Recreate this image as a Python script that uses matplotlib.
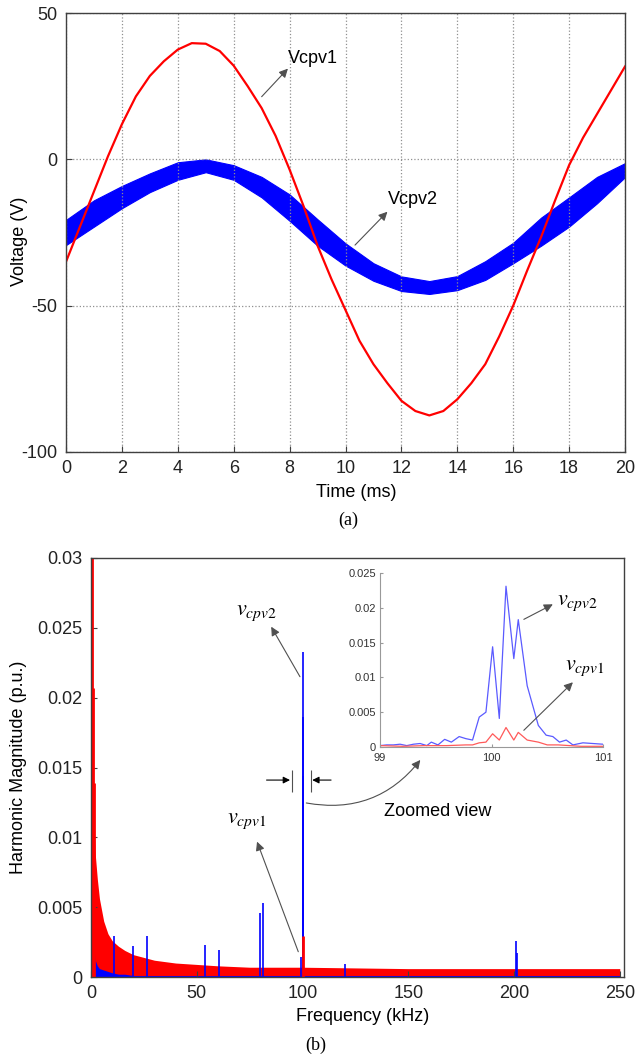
import matplotlib
matplotlib.use("Agg")
import matplotlib.pyplot as plt

plt.rcParams['font.family'] = ['Liberation Sans', 'DejaVu Sans']
plt.rcParams['mathtext.fontset'] = 'stix'
plt.rcParams['axes.unicode_minus'] = False

# ---- (a) capacitor voltages ----
t_red = [0, 0.5, 1, 1.5, 2, 2.5, 3, 3.5, 4, 4.5, 5, 5.5, 6, 6.5, 7, 7.5, 8, 8.5,
         9, 9.5, 10, 10.5, 11, 11.5, 12, 12.5, 13, 13.5, 14, 14.5, 15, 15.5,
         16, 16.5, 17, 17.5, 18, 18.5, 19, 19.5, 20]
v_cpv1 = [-35, -23, -11, 1, 12, 21.5, 28.5, 33.5, 37.5, 39.7, 39.5, 37, 32, 25,
          17.5, 8, -3.5, -16, -29.5, -41, -51.5, -62, -70, -76.5, -82.5, -86,
          -87.5, -86, -82, -76.5, -70, -60.5, -50, -38, -26.5, -14, -2, 7.4,
          15.5, 23.6, 31.7]

t_blue = [0, 1, 2, 3, 4, 5, 6, 7, 8, 9, 10, 11, 12, 13, 14, 15, 16, 17, 18, 19, 20]
v_cpv2_hi = [-20.7, -14, -9.1, -4.8, -1, 0, -2, -6, -12, -20.5, -28.7, -35.5, -40,
             -41.6, -39.9, -34.8, -28.5, -19.9, -13, -6, -1.3]
v_cpv2_lo = [-29.3, -23, -16.7, -11.2, -7, -4.4, -7, -13, -21, -29.5, -36.3, -41.5,
             -45, -46, -44.7, -41.2, -35.5, -29.5, -23, -15, -6.1]

# ---- (b) harmonic spectrum ----
spec_f = [1, 2, 3, 4, 6, 8, 10, 13, 16, 20, 25, 30, 40, 50, 60, 75, 100, 150, 200, 250]
red_noise_top = [0.0125, 0.0088, 0.0070, 0.0056, 0.0040, 0.0031, 0.0026, 0.0022,
                 0.0019, 0.0016, 0.0014, 0.0012, 0.0010, 0.0009, 0.0008, 0.0007,
                 0.0007, 0.0006, 0.0006, 0.0006]
red_noise_bot = [0.0025, 0.0012, 0.0008, 0.0006, 0.0005, 0.0004, 0.0003, 0.0002,
                 0.0002, 0.0001, 0.0001, 0.0001, 0.0001, 0.0001, 0.0001, 0.0001,
                 0.0001, 0.0001, 0.0001, 0.0001]
blue_noise_top = [0.0040, 0.0025, 0.0018, 0.0014, 0.0010, 0.0008, 0.0007, 0.0006,
                  0.0006, 0.0005, 0.0005, 0.0005, 0.0005, 0.0004, 0.0004, 0.0004,
                  0.0004, 0.0004, 0.0004, 0.0004]

blue_spike_f = [0.3, 11, 20, 26.7, 54, 60.4, 80, 81.3, 99.4, 100.01, 100.13, 100.24,
                120, 201, 201.3]
blue_spike_v = [0.0116, 0.0029, 0.0022, 0.0029, 0.0023, 0.0019, 0.0046, 0.0053,
                0.0014, 0.0144, 0.0233, 0.0186, 0.0009, 0.0026, 0.0017]
red_spike_f = [0.5, 0.9, 1.2, 100.13]
red_spike_v = [0.030, 0.0207, 0.0139, 0.0029]

# zoomed view around 100 kHz
zoom_f_blue = [99.0, 99.06, 99.12, 99.18, 99.24, 99.3, 99.36, 99.42, 99.46, 99.52,
               99.58, 99.64, 99.71, 99.77, 99.83, 99.89, 99.95, 100.01, 100.07,
               100.13, 100.2, 100.24, 100.32, 100.42, 100.49, 100.55, 100.61,
               100.67, 100.73, 100.82, 100.91, 101.0]
zoom_v_blue = [0.0002, 0.0003, 0.0003, 0.0004, 0.0002, 0.0004, 0.0005, 0.0002,
               0.0007, 0.0003, 0.0011, 0.0007, 0.0015, 0.0012, 0.0010, 0.0043,
               0.0050, 0.0144, 0.0041, 0.0231, 0.0127, 0.0183, 0.0088, 0.0031,
               0.0017, 0.0015, 0.0007, 0.0010, 0.0003, 0.0006, 0.0005, 0.0004]
zoom_f_red = [99.0, 99.2, 99.4, 99.6, 99.77, 99.83, 99.89, 99.95, 100.01, 100.07,
              100.13, 100.2, 100.24, 100.32, 100.42, 100.5, 100.6, 100.8, 101.0]
zoom_v_red = [0.0002, 0.0001, 0.0002, 0.0002, 0.0003, 0.0003, 0.0006, 0.0007,
              0.0019, 0.0010, 0.0028, 0.0010, 0.0021, 0.0010, 0.0007, 0.0003,
              0.0003, 0.0001, 0.0001]

W, H = 635, 1062
fig = plt.figure(figsize=(W / 100, H / 100), dpi=100)


def px_axes(left, top, right, bottom):
    # axes box given in picture pixels
    return fig.add_axes([left / W, 1 - bottom / H, (right - left) / W, (bottom - top) / H])


spine_col = '#404040'
arrow = dict(arrowstyle='-|>', color='#505050', lw=0.8, mutation_scale=13,
             shrinkA=0, shrinkB=0)

# ---------------- (a) ----------------
ax1 = px_axes(66, 13, 625, 452)
ax1.fill_between(t_blue, v_cpv2_lo, v_cpv2_hi, color='blue', lw=0.8)
ax1.plot(t_red, v_cpv1, color='red', lw=1.6)
ax1.set_xlim(0, 20)
ax1.set_ylim(-100, 50)
ax1.set_xticks(range(0, 21, 2))
ax1.set_yticks([-100, -50, 0, 50])
ax1.grid(True, linestyle=':', color='#909090', lw=0.9)
ax1.set_xlabel('Time (ms)', fontsize=13)
ax1.set_ylabel('Voltage (V)', fontsize=13)
ax1.xaxis.set_label_coords(0.52, -0.073)
ax1.yaxis.set_label_coords(-0.068, 0.48)
ax1.annotate('', xy=(7.94, 31), xytext=(7.0, 21.4), arrowprops=arrow)
ax1.text(7.95, 34.6, 'Vcpv1', fontsize=13, va='center', ha='left')
ax1.annotate('', xy=(11.5, -17.9), xytext=(10.34, -29.3), arrowprops=arrow)
ax1.text(11.5, -13.6, 'Vcpv2', fontsize=13, va='center', ha='left')

# ---------------- (b) ----------------
ax2 = px_axes(91, 558, 624, 977)
ax2.fill_between(spec_f, 0, blue_noise_top, color='blue', lw=0)
ax2.vlines(blue_spike_f, 0, blue_spike_v, color='blue', lw=1.2)
ax2.fill_between(spec_f, red_noise_bot, red_noise_top, color='red', lw=0)
ax2.vlines(red_spike_f, 0, red_spike_v, color='red', lw=2)
ax2.set_xlim(0, 252)
ax2.set_ylim(0, 0.03)
ax2.set_xticks([0, 50, 100, 150, 200, 250])
ax2.set_yticks([0, 0.005, 0.01, 0.015, 0.02, 0.025, 0.03])
ax2.set_yticklabels(['0', '0.005', '0.01', '0.015', '0.02', '0.025', '0.03'])
ax2.set_xlabel('Frequency (kHz)', fontsize=13)
ax2.set_ylabel('Harmonic Magnitude (p.u.)', fontsize=13)
ax2.xaxis.set_label_coords(0.51, -0.074)
ax2.yaxis.set_label_coords(-0.120, 0.5)

ax2.annotate('', xy=(85.2, 0.02508), xytext=(98.8, 0.0215), arrowprops=arrow)
ax2.text(68.5, 0.0261, r'$v_{\mathit{cpv2}}$', fontsize=16, va='center', ha='left')
ax2.annotate('', xy=(78.5, 0.00969), xytext=(98.0, 0.00181), arrowprops=arrow)
ax2.text(64.3, 0.01124, r'$v_{\mathit{cpv1}}$', fontsize=16, va='center', ha='left')

# markers bracketing the 100 kHz line
bracket = dict(arrowstyle='-|>', color='black', lw=0.8, mutation_scale=10,
               shrinkA=0, shrinkB=0)
ax2.annotate('', xy=(94.1, 0.0141), xytext=(83.0, 0.0141), arrowprops=bracket)
ax2.annotate('', xy=(104.6, 0.0141), xytext=(113.5, 0.0141), arrowprops=bracket)
ax2.vlines([94.9, 104.0], 0.01327, 0.01484, color='#505050', lw=0.8)
ax2.annotate('', xy=(155.7, 0.01554), xytext=(101.8, 0.01246),
             arrowprops=dict(arrowstyle='-|>', color='#505050', lw=0.8,
                             mutation_scale=13, shrinkA=0, shrinkB=0,
                             connectionstyle='arc3,rad=0.3'))
ax2.text(164, 0.01183, 'Zoomed view', fontsize=13, ha='center', va='center')

# inset
ax3 = px_axes(380, 573, 603, 747)
ax3.plot(zoom_f_blue, zoom_v_blue, color='#5a5aff', lw=0.9)
ax3.plot(zoom_f_red, zoom_v_red, color='#ff5a5a', lw=0.9)
ax3.set_xlim(99, 101)
ax3.set_ylim(0, 0.025)
ax3.set_xticks([99, 100, 101])
ax3.set_yticks([0, 0.005, 0.01, 0.015, 0.02, 0.025])
ax3.set_yticklabels(['0', '0.005', '0.01', '0.015', '0.02', '0.025'])
for s in ['top', 'right']:
    ax3.spines[s].set_visible(False)
for s in ['left', 'bottom']:
    ax3.spines[s].set_color('#999999')
ax3.tick_params(labelsize=8, length=2, direction='in', colors='#999999',
                labelcolor='#333333')
ax3.tick_params(axis='x', pad=4)
ax3.tick_params(axis='y', pad=3)
ax3.annotate('', xy=(100.55, 0.0205), xytext=(100.29, 0.01834), arrowprops=arrow)
ax3.text(100.59, 0.0207, r'$v_{\mathit{cpv2}}$', fontsize=16, va='center', ha='left')
ax3.annotate('', xy=(100.73, 0.0093), xytext=(100.29, 0.0024), arrowprops=arrow)
ax3.text(100.66, 0.0114, r'$v_{\mathit{cpv1}}$', fontsize=16, va='center', ha='left')

for ax in (ax1, ax2):
    ax.tick_params(labelsize=13, direction='in', length=4, colors=spine_col,
                   labelcolor='#222222', pad=6)
    for s in ax.spines.values():
        s.set_color(spine_col)
        s.set_linewidth(1.0)

fig.text(348 / W, 1 - 520 / H, '(a)', fontsize=13, family='Liberation Serif',
         ha='center', va='center')
fig.text(316 / W, 1 - 1045 / H, '(b)', fontsize=13, family='Liberation Serif',
         ha='center', va='center')

fig.savefig('out.png', dpi=100)
